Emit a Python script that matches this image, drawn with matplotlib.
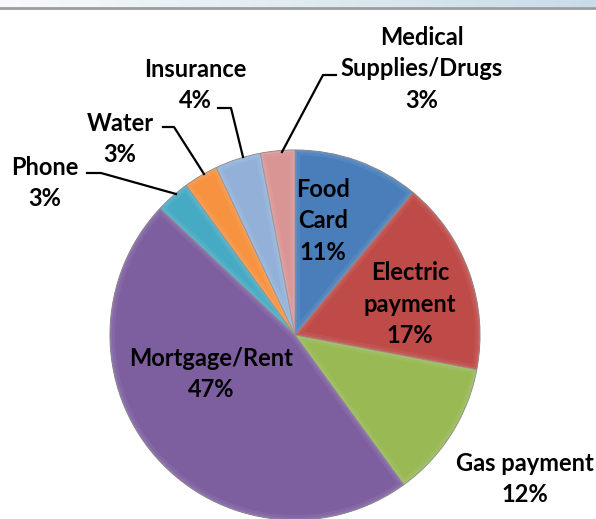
import numpy as np
import matplotlib.pyplot as plt
import matplotlib.colors as mcolors
from matplotlib.patches import Wedge

W, H = 596, 519

# data
labels = ["Food\nCard", "Electric\npayment", "Gas payment", "Mortgage/Rent",
          "Phone", "Water", "Insurance", "Medical\nSupplies/Drugs"]
shares = [11, 17, 12, 47, 3, 3, 4, 3]
colors = ["#4a7ebb", "#be4b48", "#98b954", "#7d5fa0",
          "#46aac4", "#f69240", "#93b1d8", "#d99594"]

# label positions in pixel coords (x, y from top)
label_xy = [(323, 221), (410, 304), (525, 479), (211, 374),
            (45, 183), (120, 139), (195, 85), (422, 69)]

# leader lines: (label end x, y), (elbow x, y), (pie point x, y)
leaders = {
    4: [(87, 173), (101, 173), (176, 194)],
    5: [(163, 127), (174, 127), (204, 174)],
    6: [(218, 108), (231, 108), (243, 157)],
    7: [(336, 75), (323, 75), (282, 152)],
}

fig = plt.figure(figsize=(W / 100, H / 100), dpi=100)
ax = fig.add_axes([0, 0, 1, 1])
ax.set_xlim(0, W)
ax.set_ylim(0, H)
ax.axis("off")

# window strip along the top
grad = np.linspace(0, 1, 256).reshape(1, -1)
strip = mcolors.LinearSegmentedColormap.from_list("strip", ["#f7fafc", "#c8dce8"])
ax.imshow(grad, cmap=strip, extent=(0, W, H - 7, H), aspect="auto", zorder=0)
ax.plot([0, W], [H - 8, H - 8], color="#9a9a9a", lw=2, zorder=1)

cx, cy, r = 295, H - 335, 185
wedges, _ = ax.pie(shares, colors=colors, startangle=90, counterclock=False,
                   center=(cx, cy), radius=r, frame=True,
                   wedgeprops=dict(edgecolor="#7f7f7f", linewidth=0.7))
ax.set_xlim(0, W)
ax.set_ylim(0, H)
ax.set_aspect("equal")

# soft bevel: lighter rim clipped inside each wedge
for w, c in zip(wedges, colors):
    base = mcolors.to_rgb(c)
    light = tuple(min(1, v + (1 - v) * 0.3) for v in base)
    for lw, a in [(7, 0.18), (3, 0.3)]:
        rim = Wedge((cx, cy), r, w.theta1, w.theta2, facecolor="none",
                    edgecolor=light, linewidth=lw, alpha=a)
        ax.add_patch(rim)
        rim.set_clip_path(w)

for i, (lab, (x, y)) in enumerate(zip(labels, label_xy)):
    ax.text(x, H - y, f"{lab}\n{shares[i]}%", ha="center", va="center",
            fontsize=17, fontfamily="Lato", fontweight="bold",
            color="black", linespacing=1.45, zorder=5)

for pts in leaders.values():
    xs = [p[0] for p in pts]
    ys = [H - p[1] for p in pts]
    ax.plot(xs, ys, color="black", lw=1.6, zorder=4)

fig.savefig("out.png", dpi=100)
